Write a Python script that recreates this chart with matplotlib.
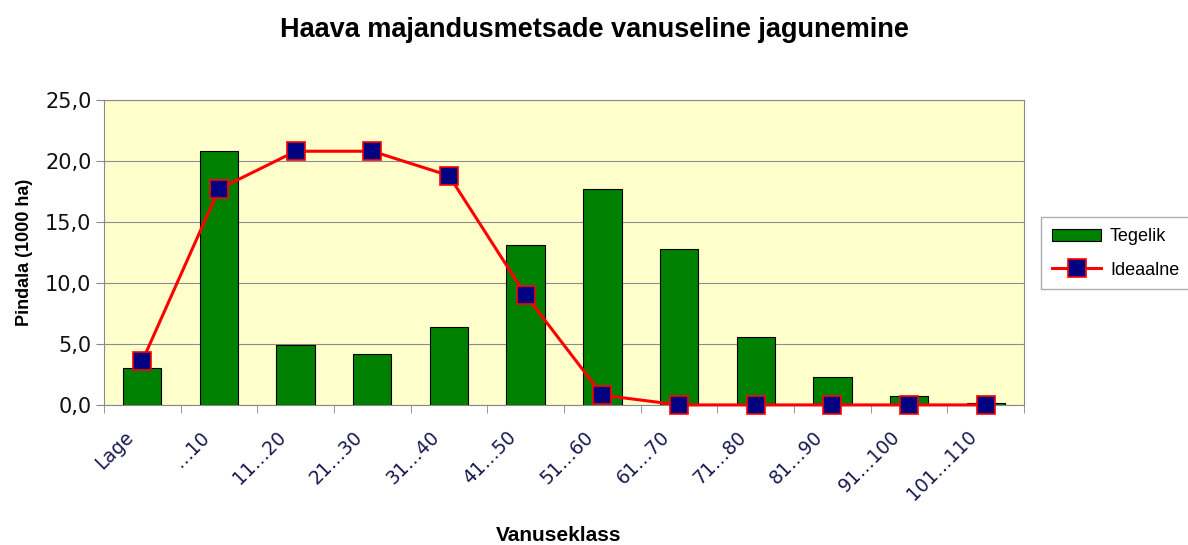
import matplotlib
matplotlib.use("Agg")
import matplotlib.pyplot as plt
import matplotlib.transforms as mtransforms
import numpy as np

categories = ["Lage", "…10", "11…20", "21…30", "31…40", "41…50", "51…60",
              "61…70", "71…80", "81…90", "91…100", "101…110"]
tegelik = [3.0, 20.8, 4.9, 4.2, 6.4, 13.1, 17.7, 12.8, 5.6, 2.3, 0.7, 0.15]
ideaalne = [3.6, 17.7, 20.8, 20.8, 18.8, 9.0, 0.8, 0.0, 0.0, 0.0, 0.0, 0.0]

plt.rcParams["font.family"] = ["Liberation Sans", "DejaVu Sans"]

fig = plt.figure(figsize=(11.88, 5.45), dpi=100)
ax = fig.add_axes([0.0875, 0.257, 0.7745, 0.5595])
ax.set_facecolor("#ffffcc")

x = np.arange(len(categories))
bars = ax.bar(x, tegelik, width=0.5, color="#008000", edgecolor="black",
              linewidth=0.8, label="Tegelik", zorder=2)
line, = ax.plot(x, ideaalne, color="#ff0000", linewidth=2.2, marker="s",
                markersize=13, markerfacecolor="#000080", markeredgecolor="#ff0000",
                markeredgewidth=1.2, label="Ideaalne", zorder=3, clip_on=False)

ax.set_xlim(-0.5, len(categories) - 0.5)
ax.set_ylim(0, 25)
yt = np.arange(0, 25.1, 5)
ax.set_yticks(yt)
ax.set_yticklabels([f"{v:.1f}".replace(".", ",") for v in yt],
                   fontsize=15, family="DejaVu Sans", color="#111111")
ax.yaxis.grid(True, color="#8c8c8c", linewidth=0.8, zorder=0)
ax.set_axisbelow(True)

ax.set_xticks(x)
ax.set_xticklabels(categories, rotation=45, ha="right", rotation_mode="anchor",
                   fontsize=13.5, family="DejaVu Sans", color="#1a1a50")
ax.tick_params(axis="x", which="major", length=0, pad=16)
# labels sit a bit left of the category centre
shift = mtransforms.ScaledTranslation(-19 / 100, 0, fig.dpi_scale_trans)
for lbl in ax.get_xticklabels():
    lbl.set_transform(lbl.get_transform() + shift)
ax.set_xticks(np.arange(-0.5, len(categories), 1), minor=True)
ax.tick_params(axis="x", which="minor", length=6, color="#888888")
ax.tick_params(axis="y", length=6, color="#888888", pad=3)

for s in ax.spines.values():
    s.set_color("#888888")

ax.set_ylabel("Pindala (1000 ha)", fontsize=13, fontweight="bold", labelpad=9)
fig.text(0.47, 0.008, "Vanuseklass", ha="center", fontsize=15, fontweight="bold")
fig.text(0.5, 0.932, "Haava majandusmetsade vanuseline jagunemine", ha="center",
         fontsize=19.5, fontweight="bold")

fig.legend(handles=[bars, line], loc="center left",
           bbox_to_anchor=(0.869, 0.535), fontsize=13,
           frameon=True, fancybox=False, edgecolor="#999999",
           handlelength=2.7, handletextpad=0.5, borderpad=0.6, labelspacing=0.9)

fig.savefig("out.png", dpi=100)
plt.close(fig)
